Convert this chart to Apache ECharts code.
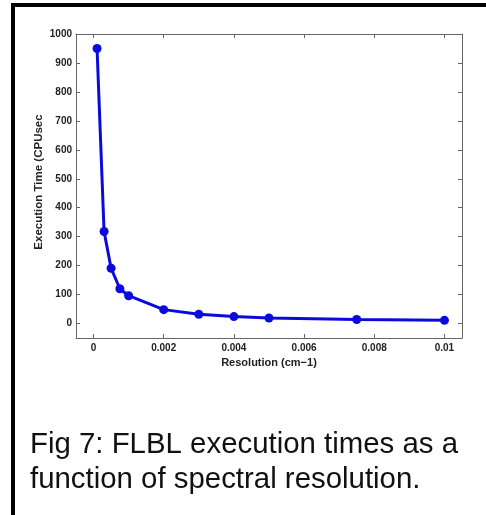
<!DOCTYPE html>
<html>
<head>
<meta charset="utf-8">
<script src="https://cdn.jsdelivr.net/npm/echarts@6/dist/echarts.min.js"></script>
<style>html,body{margin:0;padding:0;background:#fff;}#c{width:486px;height:515px;}</style>
</head>
<body>
<div id="c"></div>
<script>
var resolution = [0.0001, 0.0003, 0.0005, 0.00075, 0.001, 0.002, 0.003, 0.004, 0.005, 0.0075, 0.01];
var execTime   = [950, 318, 191, 120, 96, 48, 32, 24, 19, 14, 11];
var xTicks = [0, 0.002, 0.004, 0.006, 0.008, 0.01];
var yTicks = [0, 100, 200, 300, 400, 500, 600, 700, 800, 900, 1000];
var xAxisName = 'Resolution (cm\u22121)';
var yAxisName = 'Execution Time (CPUsec';
var captionLines = ['Fig 7: FLBL execution times as a', 'function of spectral resolution.'];

var chart = echarts.init(document.getElementById('c'), null, {renderer: 'canvas'});
var axisColor = '#666';
var labelFont = {fontFamily: 'Liberation Sans', fontWeight: 'bold', fontSize: 10, color: '#222'};
function xAx(pos, showLabel) {
  return {
    type: 'value', position: pos, min: -0.0005, max: 0.0105,
    axisLine: {show: true, onZero: false, lineStyle: {color: axisColor, width: 1}},
    axisTick: {show: true, inside: true, length: 4, customValues: xTicks, lineStyle: {color: axisColor}},
    axisLabel: Object.assign({show: showLabel, margin: 5, customValues: xTicks,
      formatter: function (v) { return String(+(+v).toFixed(4)); }}, labelFont),
    splitLine: {show: false},
    name: showLabel ? xAxisName : '',
    nameLocation: 'middle', nameGap: 17,
    nameTextStyle: {fontFamily: 'Liberation Sans', fontWeight: 'bold', fontSize: 11, color: '#222'}
  };
}
function yAx(pos, showLabel) {
  return {
    type: 'value', position: pos, min: -50, max: 1000,
    axisLine: {show: true, onZero: false, lineStyle: {color: axisColor, width: 1}},
    axisTick: {show: true, inside: true, length: 4, customValues: yTicks, lineStyle: {color: axisColor}},
    axisLabel: Object.assign({show: showLabel, margin: 4, customValues: yTicks,
      formatter: function (v) { return String(v); }}, labelFont),
    splitLine: {show: false}
  };
}
chart.setOption({
  animation: false,
  grid: {left: 76, right: 24, top: 34, bottom: 177, containLabel: false},
  xAxis: [xAx('bottom', true), xAx('top', false)],
  yAxis: [yAx('left', true), yAx('right', false)],
  series: [{
    type: 'line',
    data: resolution.map(function (r, i) { return [r, execTime[i]]; }),
    symbol: 'circle', symbolSize: 9,
    lineStyle: {color: '#0a0adc', width: 3},
    itemStyle: {color: '#0a0adc'}
  }],
  graphic: [
    {type: 'rect', shape: {x: 11, y: 3, width: 475, height: 4}, style: {fill: '#000'}},
    {type: 'rect', shape: {x: 11, y: 3, width: 4, height: 512}, style: {fill: '#000'}},
    {type: 'text', x: 39, y: 182, rotation: Math.PI / 2,
      style: {text: yAxisName, font: 'bold 11.5px "Liberation Sans"', fill: '#222', align: 'center', verticalAlign: 'middle'}},
    {type: 'text', x: 30, y: 445, style: {text: captionLines[0], font: '29.4px "Liberation Sans"', fill: '#111', verticalAlign: 'middle'}},
    {type: 'text', x: 30, y: 480, style: {text: captionLines[1], font: '29.4px "Liberation Sans"', fill: '#111', verticalAlign: 'middle'}}
  ]
});
</script>
</body>
</html>
